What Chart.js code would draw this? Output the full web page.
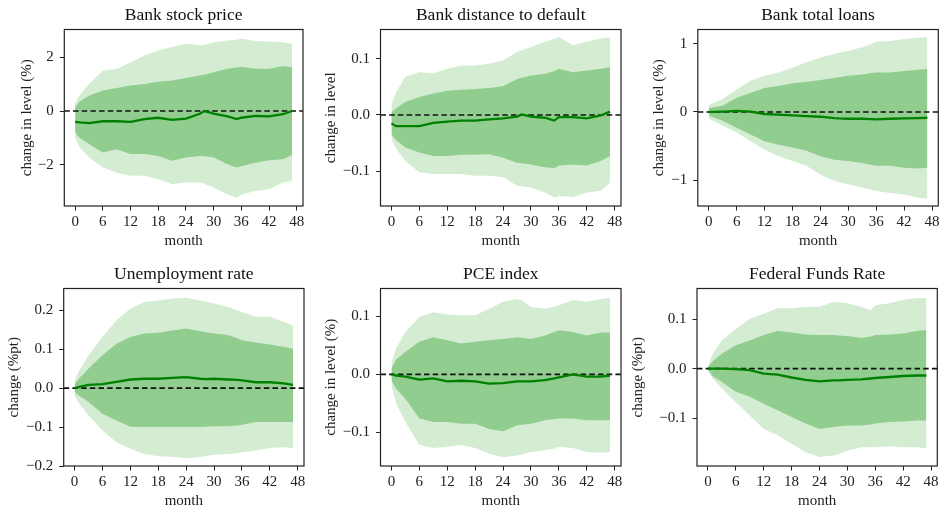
<!DOCTYPE html>
<html>
<head>
<meta charset="utf-8">
<script src="https://cdn.jsdelivr.net/npm/chart.js@4.4.1/dist/chart.umd.min.js"></script>
<style>
  html, body { margin: 0; padding: 0; background: #fff; overflow: hidden; }
  body { width: 942px; height: 509px; position: relative; }
  canvas { position: absolute; }
</style>
</head>
<body>
<script>
// months where the impulse responses are read
let months = [0, 1, 3, 6, 9, 12, 15, 18, 21, 24, 27, 28, 30, 33, 35, 36, 39, 42, 45, 47];
let xTicks = [0, 6, 12, 18, 24, 30, 36, 42, 48];

let titles = ['Bank stock price', 'Bank distance to default', 'Bank total loans',
              'Unemployment rate', 'PCE index', 'Federal Funds Rate'];
let yLabels = ['change in level (%)', 'change in level', 'change in level (%)',
               'change (%pt)', 'change in level (%)', 'change (%pt)'];
let yTicks = [[-2, 0, 2], [-0.1, 0, 0.1], [-1, 0, 1],
              [-0.2, -0.1, 0, 0.1, 0.2], [-0.1, 0, 0.1], [-0.1, 0, 0.1]];
let yTickLabels = [['−2', '0', '2'], ['−0.1', '0.0', '0.1'], ['−1', '0', '1'],
                   ['−0.2', '−0.1', '0.0', '0.1', '0.2'], ['−0.1', '0.0', '0.1'], ['−0.1', '0.0', '0.1']];

// bank stock price
let stockMed  = [-0.4, -0.42, -0.45, -0.38, -0.38, -0.4, -0.3, -0.25, -0.33, -0.28, -0.1, 0.0, -0.1, -0.2, -0.3, -0.25, -0.18, -0.2, -0.12, 0.0];
let stockHi90 = [0.3, 0.6, 1.0, 1.5, 1.57, 1.8, 2.06, 2.25, 2.38, 2.5, 2.44, 2.45, 2.56, 2.62, 2.65, 2.69, 2.6, 2.58, 2.56, 2.5];
let stockHi68 = [0.15, 0.35, 0.57, 0.76, 0.86, 0.95, 1.0, 1.09, 1.13, 1.23, 1.32, 1.35, 1.44, 1.57, 1.62, 1.65, 1.57, 1.57, 1.67, 1.63];
let stockLo68 = [-0.8, -1.0, -1.23, -1.54, -1.42, -1.6, -1.6, -1.67, -1.85, -1.73, -1.67, -1.68, -1.73, -1.98, -2.1, -2.05, -1.92, -1.83, -1.79, -1.63];
let stockLo90 = [-1.0, -1.35, -1.73, -2.1, -2.29, -2.41, -2.41, -2.54, -2.72, -2.66, -2.66, -2.7, -2.85, -3.1, -3.22, -3.1, -2.97, -2.91, -2.66, -2.6];

// bank distance to default
let ddMed  = [-0.015, -0.02, -0.02, -0.02, -0.014, -0.012, -0.01, -0.01, -0.008, -0.006, -0.003, 0.001, -0.003, -0.005, -0.01, -0.004, -0.004, -0.006, -0.001, 0.006];
let ddHi90 = [0.018, 0.04, 0.068, 0.076, 0.074, 0.082, 0.088, 0.088, 0.091, 0.097, 0.112, 0.115, 0.121, 0.13, 0.135, 0.139, 0.124, 0.13, 0.136, 0.138];
let ddHi68 = [0.005, 0.012, 0.023, 0.032, 0.038, 0.043, 0.045, 0.046, 0.048, 0.051, 0.064, 0.066, 0.07, 0.073, 0.078, 0.082, 0.076, 0.079, 0.082, 0.085];
let ddLo68 = [-0.034, -0.045, -0.058, -0.067, -0.073, -0.073, -0.071, -0.071, -0.07, -0.076, -0.085, -0.086, -0.088, -0.093, -0.095, -0.09, -0.088, -0.09, -0.082, -0.073];
let ddLo90 = [-0.043, -0.06, -0.082, -0.102, -0.105, -0.105, -0.105, -0.108, -0.108, -0.111, -0.126, -0.127, -0.129, -0.138, -0.147, -0.144, -0.146, -0.138, -0.135, -0.12];

// bank total loans
let loanMed  = [0, 0, 0.005, 0.015, 0.005, -0.03, -0.04, -0.05, -0.06, -0.07, -0.09, -0.095, -0.1, -0.1, -0.105, -0.11, -0.1, -0.095, -0.09, -0.085];
let loanHi90 = [0.1, 0.13, 0.19, 0.33, 0.46, 0.53, 0.58, 0.65, 0.73, 0.8, 0.85, 0.87, 0.9, 0.95, 1.0, 1.03, 1.04, 1.07, 1.09, 1.1];
let loanHi68 = [0.05, 0.07, 0.09, 0.21, 0.28, 0.35, 0.38, 0.42, 0.44, 0.47, 0.5, 0.51, 0.53, 0.55, 0.57, 0.58, 0.58, 0.6, 0.62, 0.63];
let loanLo68 = [-0.05, -0.08, -0.13, -0.23, -0.33, -0.43, -0.48, -0.52, -0.57, -0.65, -0.7, -0.71, -0.72, -0.75, -0.78, -0.79, -0.79, -0.82, -0.83, -0.82];
let loanLo90 = [-0.1, -0.13, -0.2, -0.3, -0.43, -0.55, -0.65, -0.72, -0.79, -0.92, -1.01, -1.03, -1.06, -1.11, -1.14, -1.16, -1.19, -1.21, -1.26, -1.27];

// unemployment rate
let unMed  = [0, 0.003, 0.008, 0.01, 0.016, 0.022, 0.024, 0.024, 0.026, 0.028, 0.024, 0.023, 0.024, 0.022, 0.021, 0.02, 0.015, 0.015, 0.012, 0.008];
let unHi90 = [0.02, 0.045, 0.084, 0.131, 0.174, 0.204, 0.221, 0.225, 0.23, 0.232, 0.225, 0.222, 0.217, 0.208, 0.2, 0.195, 0.183, 0.183, 0.17, 0.16];
let unHi68 = [0.01, 0.025, 0.05, 0.084, 0.114, 0.131, 0.14, 0.142, 0.148, 0.153, 0.146, 0.144, 0.14, 0.136, 0.128, 0.123, 0.117, 0.112, 0.106, 0.101];
let unLo68 = [-0.01, -0.02, -0.036, -0.066, -0.083, -0.099, -0.1, -0.1, -0.1, -0.1, -0.1, -0.099, -0.098, -0.098, -0.096, -0.094, -0.087, -0.087, -0.087, -0.087];
let unLo90 = [-0.02, -0.04, -0.07, -0.109, -0.139, -0.156, -0.169, -0.175, -0.176, -0.18, -0.177, -0.175, -0.171, -0.169, -0.167, -0.165, -0.16, -0.154, -0.152, -0.154];

// PCE index
let pceMed  = [0, -0.002, -0.004, -0.009, -0.007, -0.012, -0.011, -0.012, -0.016, -0.015, -0.012, -0.012, -0.012, -0.01, -0.007, -0.005, 0.0, -0.004, -0.004, -0.002];
let pceHi90 = [0.02, 0.045, 0.073, 0.099, 0.107, 0.103, 0.102, 0.102, 0.113, 0.125, 0.13, 0.128, 0.116, 0.113, 0.117, 0.119, 0.128, 0.125, 0.13, 0.132];
let pceHi68 = [0.01, 0.025, 0.039, 0.056, 0.064, 0.059, 0.053, 0.056, 0.059, 0.061, 0.064, 0.063, 0.061, 0.067, 0.073, 0.076, 0.073, 0.067, 0.072, 0.072];
let pceLo68 = [-0.01, -0.025, -0.042, -0.076, -0.082, -0.082, -0.085, -0.085, -0.094, -0.098, -0.088, -0.087, -0.085, -0.079, -0.077, -0.076, -0.076, -0.079, -0.079, -0.079];
let pceLo90 = [-0.02, -0.05, -0.082, -0.122, -0.127, -0.125, -0.122, -0.127, -0.137, -0.143, -0.14, -0.138, -0.134, -0.131, -0.128, -0.125, -0.127, -0.134, -0.135, -0.134];

// federal funds rate
let ffrMed  = [0, 0, 0, -0.001, -0.003, -0.01, -0.012, -0.018, -0.023, -0.026, -0.024, -0.024, -0.023, -0.022, -0.02, -0.019, -0.017, -0.015, -0.014, -0.014];
let ffrHi90 = [0.005, 0.03, 0.057, 0.08, 0.101, 0.111, 0.122, 0.122, 0.125, 0.125, 0.135, 0.134, 0.132, 0.125, 0.118, 0.128, 0.132, 0.139, 0.143, 0.143];
let ffrHi68 = [0.002, 0.015, 0.03, 0.047, 0.057, 0.068, 0.076, 0.073, 0.069, 0.068, 0.068, 0.067, 0.066, 0.062, 0.065, 0.068, 0.069, 0.071, 0.076, 0.078];
let ffrLo68 = [-0.002, -0.015, -0.027, -0.047, -0.057, -0.071, -0.084, -0.098, -0.111, -0.122, -0.118, -0.117, -0.115, -0.115, -0.113, -0.111, -0.108, -0.107, -0.105, -0.105];
let ffrLo90 = [-0.005, -0.02, -0.04, -0.068, -0.095, -0.122, -0.135, -0.152, -0.169, -0.179, -0.176, -0.173, -0.166, -0.159, -0.159, -0.159, -0.157, -0.159, -0.159, -0.161];

let series = [
    [stockMed, stockHi68, stockLo68, stockHi90, stockLo90],
    [ddMed, ddHi68, ddLo68, ddHi90, ddLo90],
    [loanMed, loanHi68, loanLo68, loanHi90, loanLo90],
    [unMed, unHi68, unLo68, unHi90, unLo90],
    [pceMed, pceHi68, pceLo68, pceHi90, pceLo90],
    [ffrMed, ffrHi68, ffrLo68, ffrHi90, ffrLo90]
];

// layout: plot box [left, top, right, bottom] in page pixels, y label centre, y range
let plotBoxes = [
    [64, 29, 303, 205], [380.7, 29, 621, 205], [697.3, 29, 937.3, 205],
    [64, 288.3, 304, 465.7], [380.7, 288.3, 621, 465.7], [697.3, 288.3, 937.3, 465.7]
];
let yTitleX = [26.7, 331.2, 658.5, 14.3, 331.2, 638.3];
let yRanges = [[-3.53, 3.03], [-0.162, 0.152], [-1.38, 1.21], [-0.2, 0.2556], [-0.158, 0.148], [-0.197, 0.162]];
const X_MIN = -2.35, X_MAX = 49.35;

const LIGHT = 'rgb(212, 237, 210)';
const DARK = 'rgb(145, 205, 143)';
const LINE = '#008000';
const INK = '#222';

Chart.defaults.font.family = '"Liberation Serif", "DejaVu Serif", serif';
Chart.defaults.color = INK;

let framePlugin = {
    id: 'frame',
    afterDraw: function (chart) {
        let a = chart.chartArea;
        let ctx = chart.ctx;
        ctx.save();
        ctx.strokeStyle = INK;
        ctx.lineWidth = 1.2;
        ctx.strokeRect(a.left, a.top, a.right - a.left, a.bottom - a.top);
        ctx.restore();
    }
};

let toPoints = function (arr) {
    return arr.map(function (v, i) { return {x: months[i], y: v}; });
};

let drawPanel = function (i) {
    let box = plotBoxes[i];
    let titleH = 17.5 * 1.2 + 3.5;
    let xAxisH = 44;
    let left = yTitleX[i] - 9;
    let top = box[1] - titleH - 2;
    let width = Math.min(942, box[2] + 12) - left;
    let height = box[3] + xAxisH + 2 - top;
    let yAxisW = box[0] - left;
    let padRight = left + width - box[2];

    let canvas = document.createElement('canvas');
    canvas.width = Math.round(width);
    canvas.height = Math.round(height);
    canvas.style.left = left + 'px';
    canvas.style.top = top + 'px';
    document.body.appendChild(canvas);

    let s = series[i];
    new Chart(canvas.getContext('2d'), {
        type: 'line',
        data: {
            datasets: [
                {data: toPoints(s[0]), borderColor: LINE, borderWidth: 2.3, pointRadius: 0, fill: false},
                {data: [{x: X_MIN, y: 0}, {x: X_MAX, y: 0}], borderColor: '#111', borderWidth: 1.6,
                 borderDash: [5.5, 3.2], pointRadius: 0, fill: false},
                {data: toPoints(s[1]), borderWidth: 0, pointRadius: 0, backgroundColor: DARK, fill: '+1'},
                {data: toPoints(s[2]), borderWidth: 0, pointRadius: 0, fill: false},
                {data: toPoints(s[3]), borderWidth: 0, pointRadius: 0, backgroundColor: LIGHT, fill: '+1'},
                {data: toPoints(s[4]), borderWidth: 0, pointRadius: 0, fill: false}
            ]
        },
        options: {
            responsive: false,
            animation: false,
            devicePixelRatio: 1,
            layout: {padding: {left: 0, top: 2, right: padRight, bottom: 2}},
            plugins: {
                legend: {display: false},
                tooltip: {enabled: false},
                title: {
                    display: true,
                    text: titles[i],
                    fullSize: false,
                    color: '#111',
                    font: {size: 17.5, weight: 'normal'},
                    padding: {top: 0, bottom: 3.5}
                }
            },
            scales: {
                x: {
                    type: 'linear',
                    min: X_MIN,
                    max: X_MAX,
                    afterBuildTicks: function (scale) {
                        scale.ticks = xTicks.map(function (v) { return {value: v}; });
                    },
                    afterFit: function (scale) { scale.height = xAxisH; },
                    ticks: {font: {size: 15}, padding: 3, maxRotation: 0, autoSkip: false,
                            callback: function (v) { return String(v); }},
                    grid: {drawOnChartArea: false, drawTicks: true, tickLength: 4.5, color: INK, lineWidth: 1},
                    border: {display: false},
                    title: {display: true, text: 'month', font: {size: 15}, padding: 0}
                },
                y: {
                    type: 'linear',
                    min: yRanges[i][0],
                    max: yRanges[i][1],
                    afterBuildTicks: function (scale) {
                        scale.ticks = yTicks[i].map(function (v) { return {value: v}; });
                    },
                    afterFit: function (scale) { scale.width = yAxisW; },
                    ticks: {font: {size: 15}, padding: 6, autoSkip: false,
                            callback: function (v, idx) { return yTickLabels[i][idx]; }},
                    grid: {drawOnChartArea: false, drawTicks: true, tickLength: 4.5, color: INK, lineWidth: 1},
                    border: {display: false},
                    title: {display: true, text: yLabels[i], font: {size: 15}, padding: 0}
                }
            }
        },
        plugins: [framePlugin]
    });
};

for (let i = 0; i < titles.length; i++) {
    drawPanel(i);
}
</script>
</body>
</html>
